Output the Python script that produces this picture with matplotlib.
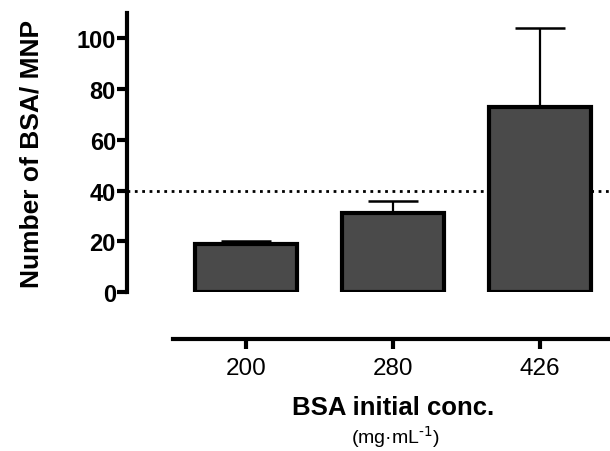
import matplotlib

matplotlib.use("Agg")

import matplotlib.pyplot as plt

plt.rcParams["font.family"] = ["Liberation Sans", "DejaVu Sans"]

# Values.
categories = ["200", "280", "426"]
bsa_per_mnp = [18.9, 31.3, 73.0]
err_upper = [1.4, 4.5, 31.0]
threshold = 40

W, H = 610, 452
fig = plt.figure(figsize=(W / 100, H / 100), dpi=100)

# Axes box in pixels: y axis at x=127, value 0 at y=293, value 110 at y=14.
left, right, bottom, top = 127, 610, 293, 14
ax = fig.add_axes([left / W, (H - bottom) / H, (right - left) / W, (bottom - top) / H])

x = list(range(len(categories)))
ax.bar(x, bsa_per_mnp, width=0.69, color="#4a4a4a", edgecolor="black",
       linewidth=3, zorder=3)
ax.errorbar(x, bsa_per_mnp, yerr=[[0] * len(x), err_upper], fmt="none",
            ecolor="black", elinewidth=1.6, capsize=18, capthick=1.8, zorder=2)
ax.axhline(threshold, color="black", linestyle=":", linewidth=2, zorder=1)

ax.set_ylim(0, 110)
ax.set_xlim(-0.81, 2.476)

ax.spines["top"].set_visible(False)
ax.spines["right"].set_visible(False)
for side in ("left", "bottom"):
    ax.spines[side].set_linewidth(3)
ax.spines["left"].set_bounds(0, 110)
ax.spines["bottom"].set_position(("outward", 34))
ax.spines["bottom"].set_bounds(-0.5, 2.476)

ax.set_yticks([0, 20, 40, 60, 80, 100])
ax.tick_params(axis="y", direction="out", length=7, width=3, pad=1,
               labelsize=17)
for lab in ax.get_yticklabels():
    lab.set_fontweight("bold")
ax.set_xticks(x, categories)
ax.tick_params(axis="x", direction="out", length=7, width=3, pad=6,
               labelsize=17.5)

ax.set_ylabel("Number of BSA/ MNP", fontsize=19, fontweight="bold", labelpad=24)

fig.text(393 / W, 1 - 408 / H, "BSA initial conc.", fontsize=18.5,
         fontweight="bold", ha="center", va="center")
fig.text(395 / W, 1 - 437 / H, r"(mg·mL$^{\text{-1}}$)", fontsize=14,
         ha="center", va="center")

fig.savefig("out.png", dpi=100)
